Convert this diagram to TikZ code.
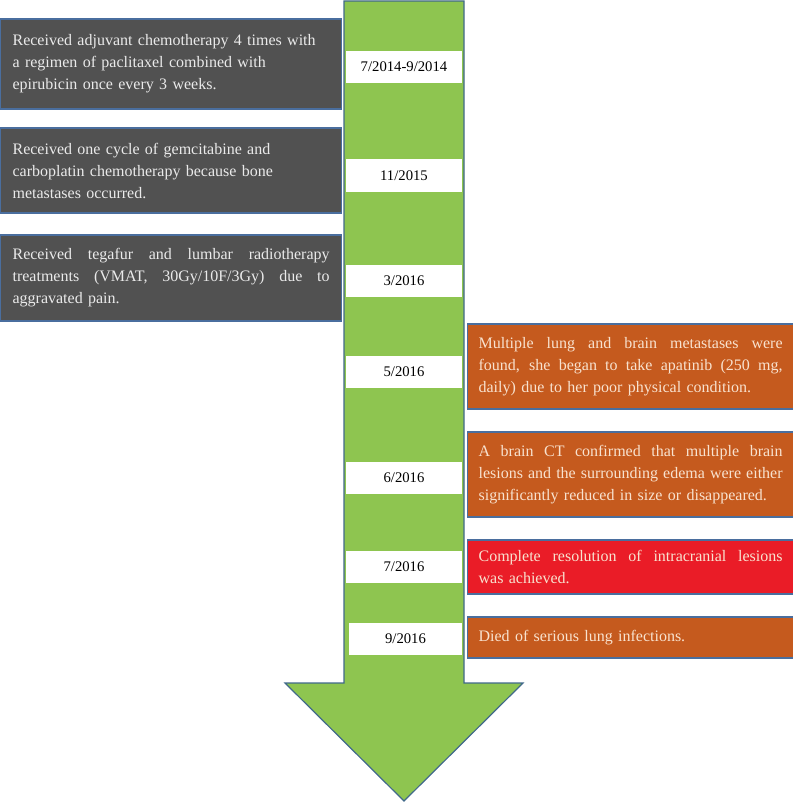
\documentclass[tikz,border=0pt]{standalone}
\usepackage{fontspec}
\setmainfont{Liberation Serif}
\definecolor{arrowgreen}{HTML}{8EC550}
\definecolor{arrowedge}{HTML}{41698A}
\definecolor{boxedge}{HTML}{4A6E9E}
\definecolor{darkbox}{HTML}{515151}
\definecolor{orangebox}{HTML}{C55A1E}
\definecolor{redbox}{HTML}{EA1C27}
\definecolor{lighttext}{HTML}{EAEAEA}
\definecolor{peachtext}{HTML}{F8E2CF}
\newcommand{\jlL}[1]{\makebox[317pt][s]{\spaceskip=\fontdimen2\font plus 20em minus 0.1em\relax #1}}
\newcommand{\jlR}[1]{\makebox[304pt][s]{\spaceskip=\fontdimen2\font plus 20em minus 0.1em\relax #1}}
\begin{document}
\begin{tikzpicture}[x=1pt,y=-1pt,
  txt/.style={font=\fontsize{16}{22}\selectfont},
  leftbox/.style={txt, draw=boxedge, line width=1.2pt, fill=darkbox, text=lighttext,
    text width=317pt, inner xsep=12pt, inner ysep=0pt, align=left, anchor=west},
  rightbox/.style={txt, draw=boxedge, line width=1.2pt, fill=orangebox, text=peachtext,
    text width=304pt, inner xsep=11pt, inner ysep=0pt, align=left, anchor=west},
  datebox/.style={font=\fontsize{14.7}{18}\selectfont, fill=white, text=black, minimum width=116pt, inner sep=0pt}]
\useasboundingbox (0,0) rectangle (792,802);

% timeline arrow
\draw[fill=arrowgreen, draw=arrowedge, line width=1.2pt, line join=miter]
  (344,1) -- (464,1) -- (464,683) -- (523,683) -- (404,801) -- (285,683) -- (344,683) -- cycle;

% date bands
\node[datebox, minimum height=32pt] (d1) at (404,67) {7/2014-9/2014};
\node[datebox, minimum height=33pt] (d2) at (404,175.5) {11/2015};
\node[datebox, minimum height=32pt] (d3) at (404,281) {3/2016};
\node[datebox, minimum height=32pt] (d4) at (404,372) {5/2016};
\node[datebox, minimum height=32pt] (d5) at (404,478) {6/2016};
\node[datebox, minimum height=32pt] (d6) at (404,567) {7/2016};
\node[datebox, minimum height=32pt, minimum width=113pt] (d7) at (405.5,639) {9/2016};

% left events
\node[leftbox, minimum height=90pt] (e1) at (0,64) {Received adjuvant chemotherapy 4 times with\\a regimen of paclitaxel combined with\\epirubicin once every 3 weeks.};
\node[leftbox, minimum height=85pt] (e2) at (0,170.5) {Received one cycle of gemcitabine and\\carboplatin chemotherapy because bone\\metastases occurred.};
\node[leftbox, minimum height=86pt] (e3) at (0,278) {\jlL{Received tegafur and lumbar radiotherapy}\\\jlL{treatments (VMAT, 30Gy/10F/3Gy) due to}\\aggravated pain.};

% right events
\node[rightbox, minimum height=85pt] (e4) at (467,366.5) {\jlR{Multiple lung and brain metastases were}\\\jlR{found, she began to take apatinib (250 mg,}\\daily) due to her poor physical condition.};
\node[rightbox, minimum height=85pt] (e5) at (467,474.5) {\jlR{A brain CT confirmed that multiple brain}\\\jlR{lesions and the surrounding edema were either}\\significantly reduced in size or disappeared.};
\node[rightbox, fill=redbox, minimum height=54pt] (e6) at (467,567) {\jlR{Complete resolution of intracranial lesions}\\was achieved.};
\node[rightbox, minimum height=41pt] (e7) at (467,637.5) {Died of serious lung infections.};
\end{tikzpicture}
\end{document}
